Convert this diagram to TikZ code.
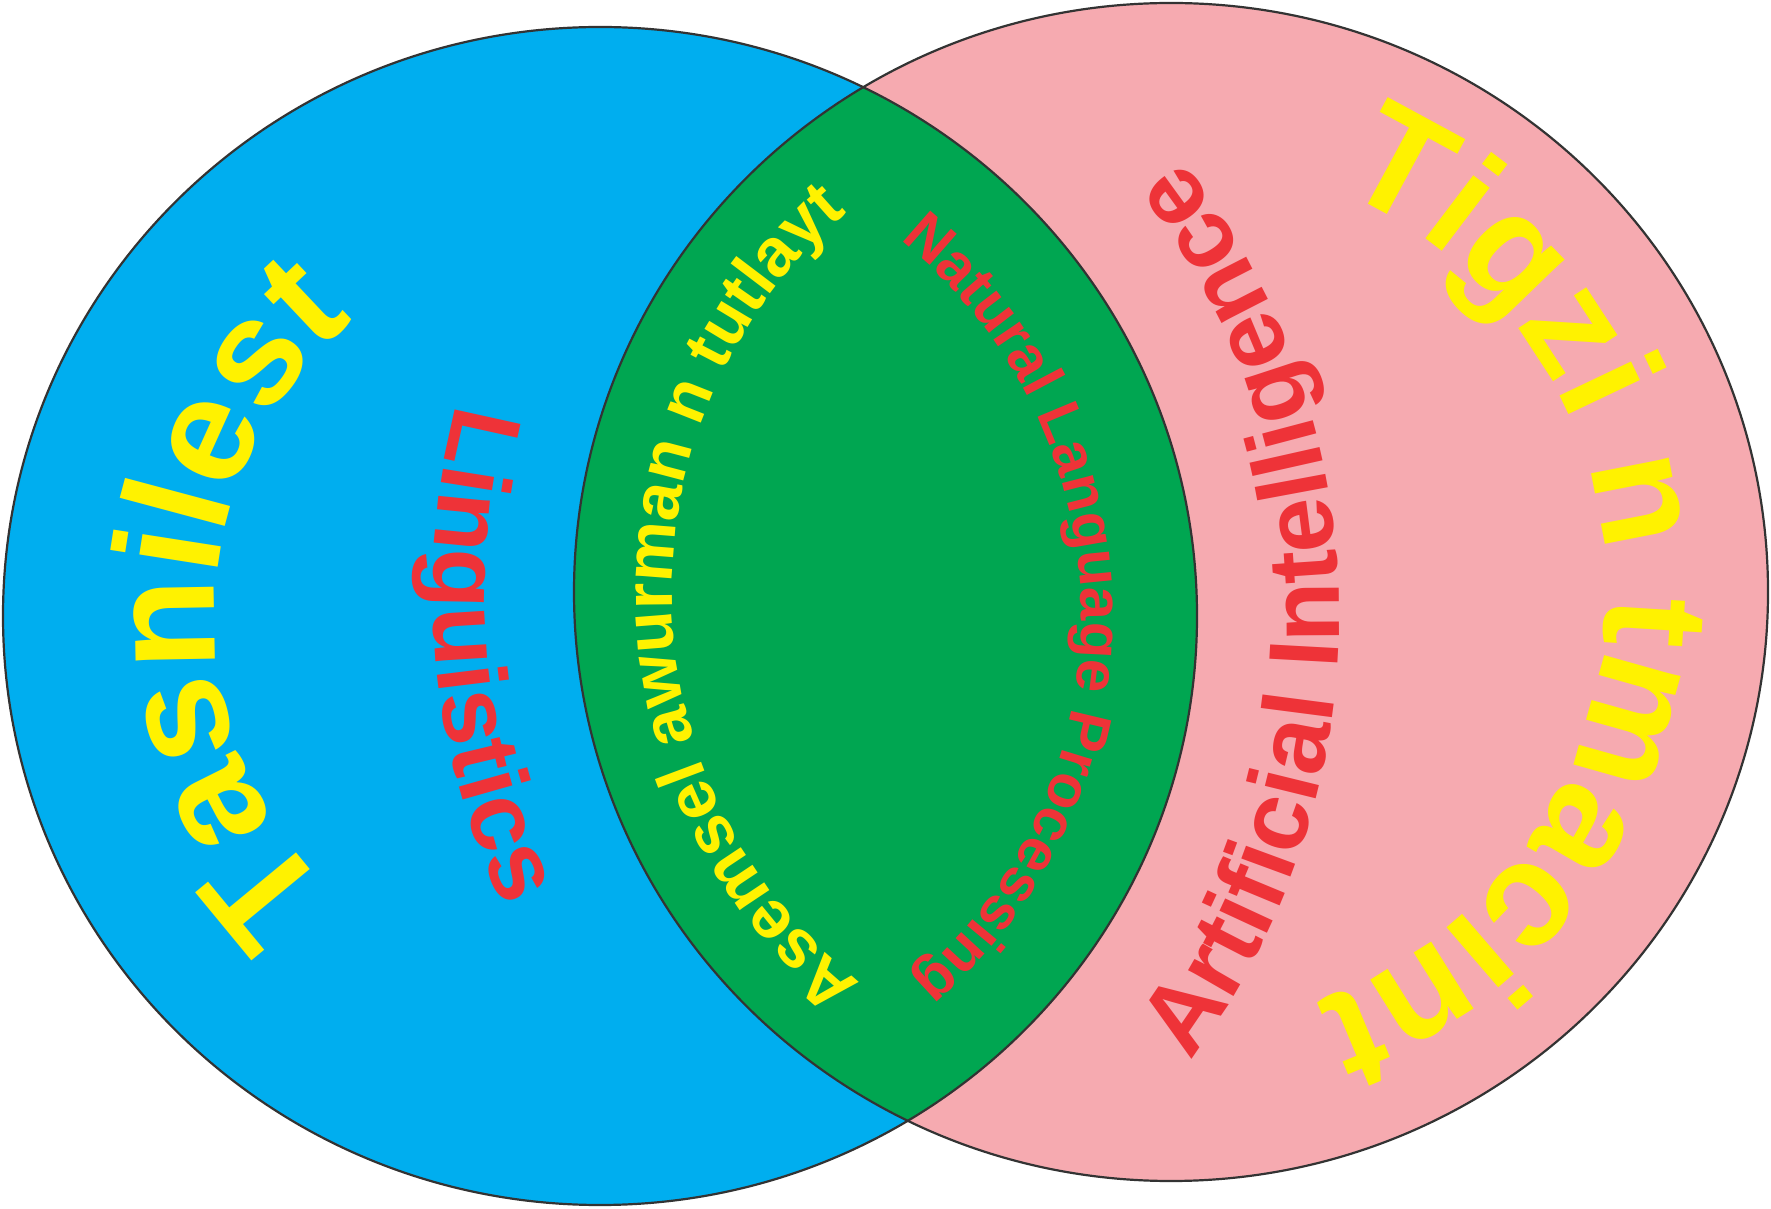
\documentclass[tikz,border=0pt]{standalone}
\usepackage{fontspec}
\setmainfont{Liberation Sans}
\usetikzlibrary{decorations.text}
\definecolor{cyanL}{HTML}{00AEEF}
\definecolor{pinkR}{HTML}{F6AAB0}
\definecolor{greenM}{HTML}{00A651}
\definecolor{yelT}{HTML}{FFF200}
\definecolor{redT}{HTML}{EE3338}
\definecolor{edgeC}{HTML}{333333}
\tikzset{
  venn/.style={x radius=597pt, y radius=589pt},
  outline/.style={draw=edgeC, line width=2.2pt},
  arctext/.style n args={3}{decorate, decoration={text along path, text align=center,
     text color=#2, text={|\fontsize{#1}{#1}\selectfont\bfseries|#3}}}
}
\begin{document}
\begin{tikzpicture}[x=1pt,y=1pt]
\useasboundingbox (0,0) rectangle (1771,1208);
\coordinate (L) at (600,592);
\coordinate (R) at (1171,616);
\fill[cyanL] (L) ellipse [venn];
\fill[pinkR] (R) ellipse [venn];
\begin{scope}
  \clip (L) ellipse [venn];
  \fill[greenM] (R) ellipse [venn];
\end{scope}
\path[outline] (L) ellipse [venn];
\path[outline] (R) ellipse [venn];
% Tasnilest
\path[arctext={150}{yelT}{Tasnilest}] (L) ++(258:385pt) arc[start angle=258, end angle=98, radius=385pt];
% Linguistics
\path[arctext={98}{redT}{Linguistics}] (R) ++(160.3:738pt) arc[start angle=160.3, end angle=210.3, radius=738pt];
% Asemsel awurman n tutlayt
\path[arctext={68}{yelT}{Asemsel awurman n tutlayt}] (R) ++(251:499pt) arc[start angle=251, end angle=111, radius=499pt];
% Natural Language Processing
\path[arctext={60}{redT}{Natural Language Processing}] (L) ++(71:481pt) arc[start angle=71, end angle=-69, radius=481pt];
% Artificial Intelligence
\path[arctext={99}{redT}{Artificial Intelligence}] (L) ++(-45:739pt) arc[start angle=-45, end angle=46, radius=739pt];
% Tigzi n tmacint
\path[arctext={150}{yelT}{Tigzi n tmacint}] (R) ++(88.5:435pt) arc[start angle=88.5, end angle=-91.5, radius=435pt];
\end{tikzpicture}
\end{document}
